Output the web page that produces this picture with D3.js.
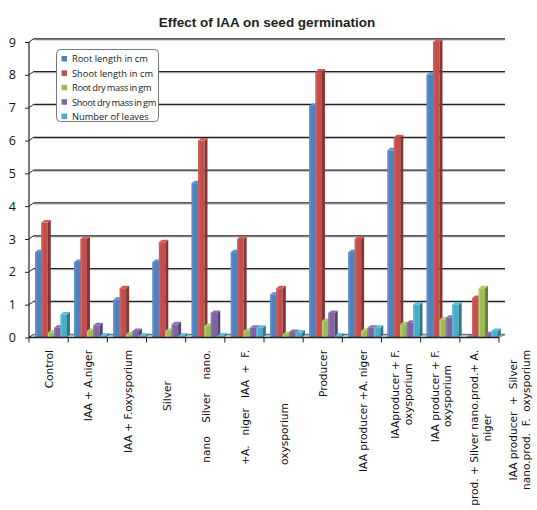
<!DOCTYPE html>
<html>
<head>
    <script src="https://d3js.org/d3.v7.min.js"></script>
    <style>
        body { margin: 0; background: white; }
        svg { display: block; }
        .cat-label { white-space: pre; }
    </style>
</head>
<body>
    <svg id="chart" width="537" height="510"></svg>
    <script>

        const categories = ["Control", "IAA + A.niger", "IAA + F.oxysporium", "Silver nano.",
            "Silver nano. + A. niger", "Silver nano. + F. oxysporium", "Producer",
            "IAA producer + A. niger", "IAAproducer + F. oxysporium", "IAA producer + F. oxysporium",
            "IAA prod. + Silver nano.prod. + A. niger", "IAA producer + Silver nano.prod. F. oxysporium"];

        // labels as they come out of the spreadsheet (they spill one slot past the axis)
        const tickLabels = [
            ["Control"],
            ["IAA + A.niger"],
            ["IAA + F.oxysporium"],
            ["Silver"],
            ["nano    Silver    nano."],
            ["+A.   niger   IAA  +  F."],
            ["oxysporium"],
            ["Producer"],
            ["IAA producer +A. niger"],
            ["IAAproducer + F.", "oxysporium"],
            ["IAA producer + F.", "oxysporium"],
            ["prod. + Silver nano.prod.+ A.", "niger"],
            ["IAA producer  +  Silver", "nano.prod.  F.  oxysporium"]
        ];

        const seriesNames = ["Root length in cm", "Shoot length in cm", "Root dry mass in gm",
            "Shoot dry mass in gm", "Number of leaves"];
        const seriesColors = ["#4F81BD", "#C0504D", "#9BBB59", "#8064A2", "#4BACC6"];

        const rootLength = [2.6, 2.3, 1.15, 2.3, 4.7, 2.6, 1.3, 7.05, 2.6, 5.7, 8.0, 0.0];
        const shootLength = [3.5, 3.0, 1.5, 2.9, 6.0, 3.0, 1.5, 8.1, 3.0, 6.1, 9.0, 1.2];
        const rootDryMass = [0.15, 0.2, 0.1, 0.2, 0.35, 0.2, 0.1, 0.5, 0.2, 0.4, 0.55, 1.5];
        const shootDryMass = [0.3, 0.37, 0.2, 0.4, 0.75, 0.3, 0.17, 0.75, 0.3, 0.45, 0.6, 0.1];
        const leaves = [0.7, 0.05, 0.05, 0.05, 0.05, 0.3, 0.15, 0.05, 0.3, 1.0, 1.0, 0.2];

        const yTicks = [0, 1, 2, 3, 4, 5, 6, 7, 8, 9];

        const allSeries = [rootLength, shootLength, rootDryMass, shootDryMass, leaves];

        const svg = d3.select("#chart");

        // 3d depth offsets
        const wallDx = 4.5, wallDy = -3.2;
        const barDx = 3, barDy = -2.5;

        const x = d3.scaleBand().domain(categories).range([29, 499]);
        const inner = d3.scaleBand().domain(seriesNames).range([6, 6 + 5 * 6.4]);
        const y = d3.scaleLinear().domain([0, 9]).range([337.5, 42]);
        // label slots (one more than the categories)
        const slot = d3.scaleLinear().domain([0, 12]).range([29, 499]);

        svg.append("rect").attr("width", 537).attr("height", 510).attr("fill", "white");

        // title
        svg.append("text")
            .attr("x", 267).attr("y", 27)
            .attr("text-anchor", "middle")
            .style("font-family", "'Liberation Sans', Arial, sans-serif")
            .style("font-weight", "bold")
            .style("font-size", "13.5px")
            .attr("fill", "#222")
            .text("Effect of IAA on seed germination");

        // floor
        svg.append("path")
            .attr("d", `M29,${y(0)} L499,${y(0)} L${499 + wallDx},${y(0) + wallDy} L${29 + wallDx},${y(0) + wallDy} Z`)
            .attr("fill", "#e4e4e4");

        // back wall gridlines
        const grid = svg.append("g");
        yTicks.forEach(t => {
            grid.append("line")
                .attr("x1", 29 + wallDx).attr("x2", 505)
                .attr("y1", y(t) + wallDy + 1.2).attr("y2", y(t) + wallDy + 1.2)
                .attr("stroke", "#bdbdbd").attr("stroke-width", 1);
            grid.append("line")
                .attr("x1", 29 + wallDx).attr("x2", 505)
                .attr("y1", y(t) + wallDy).attr("y2", y(t) + wallDy)
                .attr("stroke", t === 0 ? "#777" : "#222").attr("stroke-width", 1.3);
            grid.append("line")
                .attr("x1", 29).attr("x2", 29 + wallDx)
                .attr("y1", y(t)).attr("y2", y(t) + wallDy)
                .attr("stroke", "#222").attr("stroke-width", 1);
        });
        // floor right edge
        svg.append("line")
            .attr("x1", 499).attr("y1", y(0)).attr("x2", 505).attr("y2", y(0) + wallDy)
            .attr("stroke", "#777").attr("stroke-width", 1);

        // bars
        const bars = svg.append("g");
        categories.forEach((c, ci) => {
            seriesNames.forEach((s, si) => {
                const v = allSeries[si][ci];
                const col = d3.color(seriesColors[si]);
                const x0 = x(c) + inner(s);
                const w = inner.bandwidth();
                const yt = y(v), yb = y(0);
                // front
                if (v > 0) {
                    bars.append("rect")
                        .attr("x", x0).attr("y", yt)
                        .attr("width", w).attr("height", yb - yt)
                        .attr("fill", col.formatHex());
                    bars.append("rect")
                        .attr("x", x0).attr("y", yt)
                        .attr("width", 1.6).attr("height", yb - yt)
                        .attr("fill", col.brighter(0.35).formatHex());
                }
                // side
                bars.append("path")
                    .attr("d", `M${x0 + w},${yt} L${x0 + w + barDx},${yt + barDy} L${x0 + w + barDx},${yb + barDy} L${x0 + w},${yb} Z`)
                    .attr("fill", col.darker(1.1).formatHex());
                // top
                bars.append("path")
                    .attr("d", `M${x0},${yt} L${x0 + barDx},${yt + barDy} L${x0 + w + barDx},${yt + barDy} L${x0 + w},${yt} Z`)
                    .attr("fill", col.brighter(0.3).formatHex());
            });
        });

        // y axis
        const yAxis = svg.append("g")
            .attr("transform", "translate(29,0)")
            .call(d3.axisLeft(y).tickValues(yTicks).tickSize(4).tickPadding(9).tickFormat(d3.format("d")));
        yAxis.select(".domain").attr("d", `M0,${y(9)}V${y(0)}`).attr("stroke", "#222").attr("stroke-width", 1.2);
        yAxis.selectAll(".tick line").attr("stroke", "#222");
        yAxis.selectAll(".tick text")
            .style("font-family", "'Open Sans', sans-serif")
            .style("font-size", "12.5px")
            .attr("fill", "#111");

        // x axis
        const xAxis = svg.append("g");
        xAxis.append("line")
            .attr("x1", 29).attr("x2", 499)
            .attr("y1", y(0)).attr("y2", y(0))
            .attr("stroke", "#222").attr("stroke-width", 1.3);
        d3.range(13).forEach(i => {
            xAxis.append("line")
                .attr("x1", slot(i)).attr("x2", slot(i))
                .attr("y1", y(0)).attr("y2", y(0) + 5)
                .attr("stroke", "#222").attr("stroke-width", 1);
        });

        // category labels, rotated; block top at y = 350, except the two
        // stray fragments which sit centred lower down
        const labelTop = 350;
        const lineGap = 12.8;
        const step = slot(1) - slot(0);
        const centredAt = { 3: 396, 6: 434 };
        tickLabels.forEach((lines, i) => {
            const cx = slot(i) + step / 2 + 1;
            const g = xAxis.append("g");
            const texts = lines.map(ln => g.append("text")
                .attr("class", "cat-label")
                .style("font-family", "'DejaVu Sans', sans-serif")
                .style("font-size", "10.6px")
                .attr("fill", "#111")
                .attr("text-anchor", "middle")
                .attr("dy", "0.35em")
                .text(ln));
            const maxLen = d3.max(texts, t => t.node().getComputedTextLength());
            const mid = centredAt[i] !== undefined ? centredAt[i] : labelTop + maxLen / 2;
            texts.forEach((t, li) => {
                const lx = cx + (li - (lines.length - 1) / 2) * lineGap;
                t.attr("transform", `translate(${lx},${mid}) rotate(-90)`);
            });
        });

        // legend
        const legend = svg.append("g").attr("transform", "translate(56.5,49.5)");
        legend.append("rect")
            .attr("width", 102).attr("height", 72).attr("rx", 4)
            .attr("fill", "white").attr("stroke", "#777").attr("stroke-width", 1);
        seriesNames.forEach((s, i) => {
            const tight = i === 2 || i === 3;
            legend.append("rect")
                .attr("x", 5).attr("y", 6.5 + i * 14.4)
                .attr("width", 5.5).attr("height", 5.5)
                .attr("fill", seriesColors[i]);
            legend.append("text")
                .attr("x", 15.5).attr("y", 12.8 + i * 14.4)
                .style("font-family", "'Open Sans', sans-serif")
                .style("font-size", "9.3px")
                .style("letter-spacing", tight ? "-0.35px" : "0px")
                .style("word-spacing", tight ? "-0.6px" : "0px")
                .attr("fill", "#222")
                .text(s);
        });

    </script>
</body>
</html>
